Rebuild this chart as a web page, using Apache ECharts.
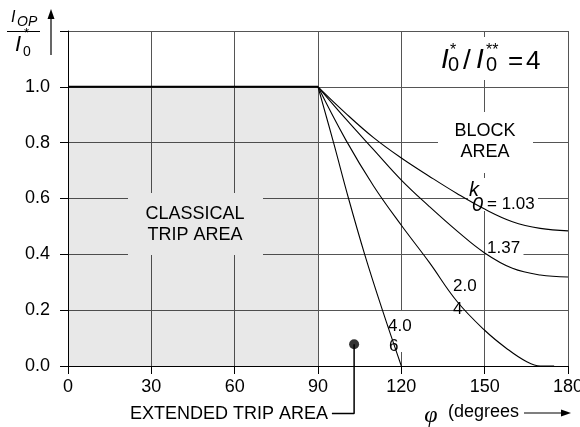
<!DOCTYPE html>
<html>
<head>
<meta charset="utf-8">
<script src="https://cdn.jsdelivr.net/npm/echarts@6/dist/echarts.min.js"></script>
<style>
  html, body { margin: 0; padding: 0; background: #fff; }
  #chart { width: 580px; height: 427px; }
</style>
</head>
<body>
<div id="chart"></div>
<script>
// Axis ticks
const phiTicks = [0, 30, 60, 90, 120, 150, 180];
const ratioTicks = [0, 0.2, 0.4, 0.6, 0.8, 1.0, 1.2];

// Classical trip region: phi 0..90, I_OP/I_0 up to 1.0
const tripPhi = [0, 90];
const tripRatio = [0, 1.0];

// Operating characteristics I_OP/I_0 versus phi for each k0
const curveK103 = [[90, 1.0], [100, 0.905], [110, 0.818], [120, 0.745], [130, 0.68], [140, 0.618], [150, 0.562], [160, 0.517], [170, 0.493], [180, 0.484]];
const curveK137 = [[90, 1.0], [100, 0.885], [110, 0.775], [120, 0.666], [130, 0.572], [140, 0.484], [150, 0.405], [160, 0.35], [170, 0.326], [180, 0.319]];
const curveK204 = [[90, 1.0], [100, 0.81], [110, 0.645], [120, 0.504], [130, 0.372], [140, 0.232], [150, 0.128], [158, 0.062], [165, 0.016], [170, 0], [175, 0]];
const curveK406 = [[90, 1.0], [95.6, 0.8], [101, 0.6], [106.8, 0.4], [113.2, 0.2], [120, 0]];

// Extended trip area marker and its leader line
const extendedPoint = [[103, 0.078]];
const extendedLeader = [[103, 0.078], [103, -0.17], [95, -0.17]];

const SANS = '"Liberation Sans", Arial, sans-serif';
const SERIF = '"Liberation Serif", "DejaVu Serif", serif';

function txt(text, x, y, size, opts) {
  opts = opts || {};
  return {
    type: 'text', z: 10,
    style: {
      text: text, x: x, y: y,
      font: (opts.italic ? 'italic ' : '') + size + 'px ' + (opts.family || SANS),
      fill: '#000',
      align: opts.align || 'left',
      verticalAlign: 'middle'
    }
  };
}
function box(x, y, w, h, color) {
  return { type: 'rect', z: 0.5, shape: { x: x, y: y, width: w, height: h }, style: { fill: color || '#fff' } };
}
function lineSeries(data) {
  return {
    type: 'line', data: data, smooth: 0.4, symbol: 'none',
    lineStyle: { color: '#000', width: 1.1 }, z: 2
  };
}

const chart = echarts.init(document.getElementById('chart'));
chart.setOption({
  animation: false,
  grid: { left: 68, right: 12, top: 31, bottom: 61, containLabel: false, outerBoundsMode: 'none' },
  xAxis: {
    type: 'value', min: phiTicks[0], max: phiTicks[phiTicks.length - 1], interval: phiTicks[1] - phiTicks[0],
    axisLine: { show: true, onZero: false, lineStyle: { color: '#000', width: 1 } },
    axisTick: { show: true, length: 8, lineStyle: { color: '#000' } },
    axisLabel: { fontSize: 18, color: '#000', fontFamily: SANS, margin: 12, hideOverlap: false },
    splitLine: { show: true, lineStyle: { color: '#555', width: 1 } }
  },
  yAxis: {
    type: 'value', min: ratioTicks[0], max: ratioTicks[ratioTicks.length - 1], interval: 0.2,
    axisLine: { show: true, onZero: false, lineStyle: { color: '#000', width: 1 } },
    axisTick: { show: true, length: 8, lineStyle: { color: '#000' } },
    axisLabel: {
      fontSize: 18, color: '#000', fontFamily: SANS, margin: 18,
      formatter: v => (v > 1.1 ? '' : v.toFixed(1))
    },
    splitLine: { show: true, lineStyle: { color: '#555', width: 1 } }
  },
  series: [
    {
      type: 'line', data: [[tripPhi[0], tripRatio[1]], [tripPhi[1], tripRatio[1]]],
      symbol: 'none', lineStyle: { color: '#000', width: 2 }, z: 2,
      markArea: {
        silent: true,
        itemStyle: { color: 'rgba(0,0,0,0.09)' },
        data: [[{ coord: [tripPhi[0], tripRatio[0]] }, { coord: [tripPhi[1], tripRatio[1]] }]]
      }
    },
    lineSeries(curveK103),
    lineSeries(curveK137),
    lineSeries(curveK204),
    lineSeries(curveK406),
    {
      type: 'line', data: extendedLeader, symbol: 'none', clip: false,
      lineStyle: { color: '#000', width: 1.5 }, z: 3
    },
    {
      type: 'scatter', data: extendedPoint, symbol: 'circle', symbolSize: 10,
      itemStyle: { color: '#000' }, z: 4
    }
  ],
  graphic: [
    // label backgrounds
    box(436, 37, 114, 43),
    box(438, 112, 95, 61),
    box(468, 178, 70, 33),
    box(485.5, 240, 38, 18),
    box(387, 311, 27, 41),
    box(128, 193, 135, 62),

    // y-axis title I_OP / I_0
    txt('I', 11, 17.5, 16, { italic: true }),
    txt('OP', 17, 22.5, 14, { italic: true }),
    { type: 'line', z: 10, shape: { x1: 7, y1: 31.5, x2: 40, y2: 31.5 }, style: { stroke: '#000', lineWidth: 1 } },
    txt('*', 24, 33, 13),
    txt('I', 15, 45, 22, { italic: true }),
    txt('0', 23, 52, 14),
    { type: 'line', z: 10, shape: { x1: 51, y1: 55, x2: 51, y2: 16 }, style: { stroke: '#000', lineWidth: 1.2 } },
    { type: 'polygon', z: 10, shape: { points: [[51, 9], [47.5, 19], [54.5, 19]] }, style: { fill: '#000' } },

    // ratio annotation I0* / I0** = 4
    txt('I', 441, 60, 28, { italic: true }),
    txt('0', 448, 65.5, 20),
    txt('*', 450, 51, 16),
    txt('/', 463, 61, 28),
    txt('I', 476, 60, 28, { italic: true }),
    txt('0', 486, 65.5, 20),
    txt('**', 486, 51, 16),
    txt('=', 508, 62, 26),
    txt('4', 526, 61.5, 26),

    // area labels
    txt('BLOCK', 485, 131, 18, { align: 'center' }),
    txt('AREA', 485, 152, 18, { align: 'center' }),
    txt('CLASSICAL', 195, 214.5, 18, { align: 'center' }),
    txt('TRIP AREA', 195, 235, 18, { align: 'center' }),

    // k0 curve labels
    txt('k', 469, 190, 20, { italic: true }),
    txt('0', 472, 205, 20, { italic: true }),
    txt('= 1.03', 487, 204, 17),
    txt('1.37', 487, 248, 17),
    txt('2.0', 453, 286.5, 17),
    txt('4', 453, 309, 17),
    txt('4.0', 388, 326, 17),
    txt('6', 389, 346.5, 17),

    // bottom annotations
    txt('EXTENDED TRIP AREA', 130, 414, 18),
    txt('φ', 431, 415.5, 24, { italic: true, family: SERIF, align: 'center' }),
    txt('(degrees', 448, 412.5, 18),
    { type: 'line', z: 10, shape: { x1: 524, y1: 413, x2: 564, y2: 413 }, style: { stroke: '#000', lineWidth: 1.2 } },
    { type: 'polygon', z: 10, shape: { points: [[571, 413], [561, 409.5], [561, 416.5]] }, style: { fill: '#000' } }
  ]
});
</script>
</body>
</html>
